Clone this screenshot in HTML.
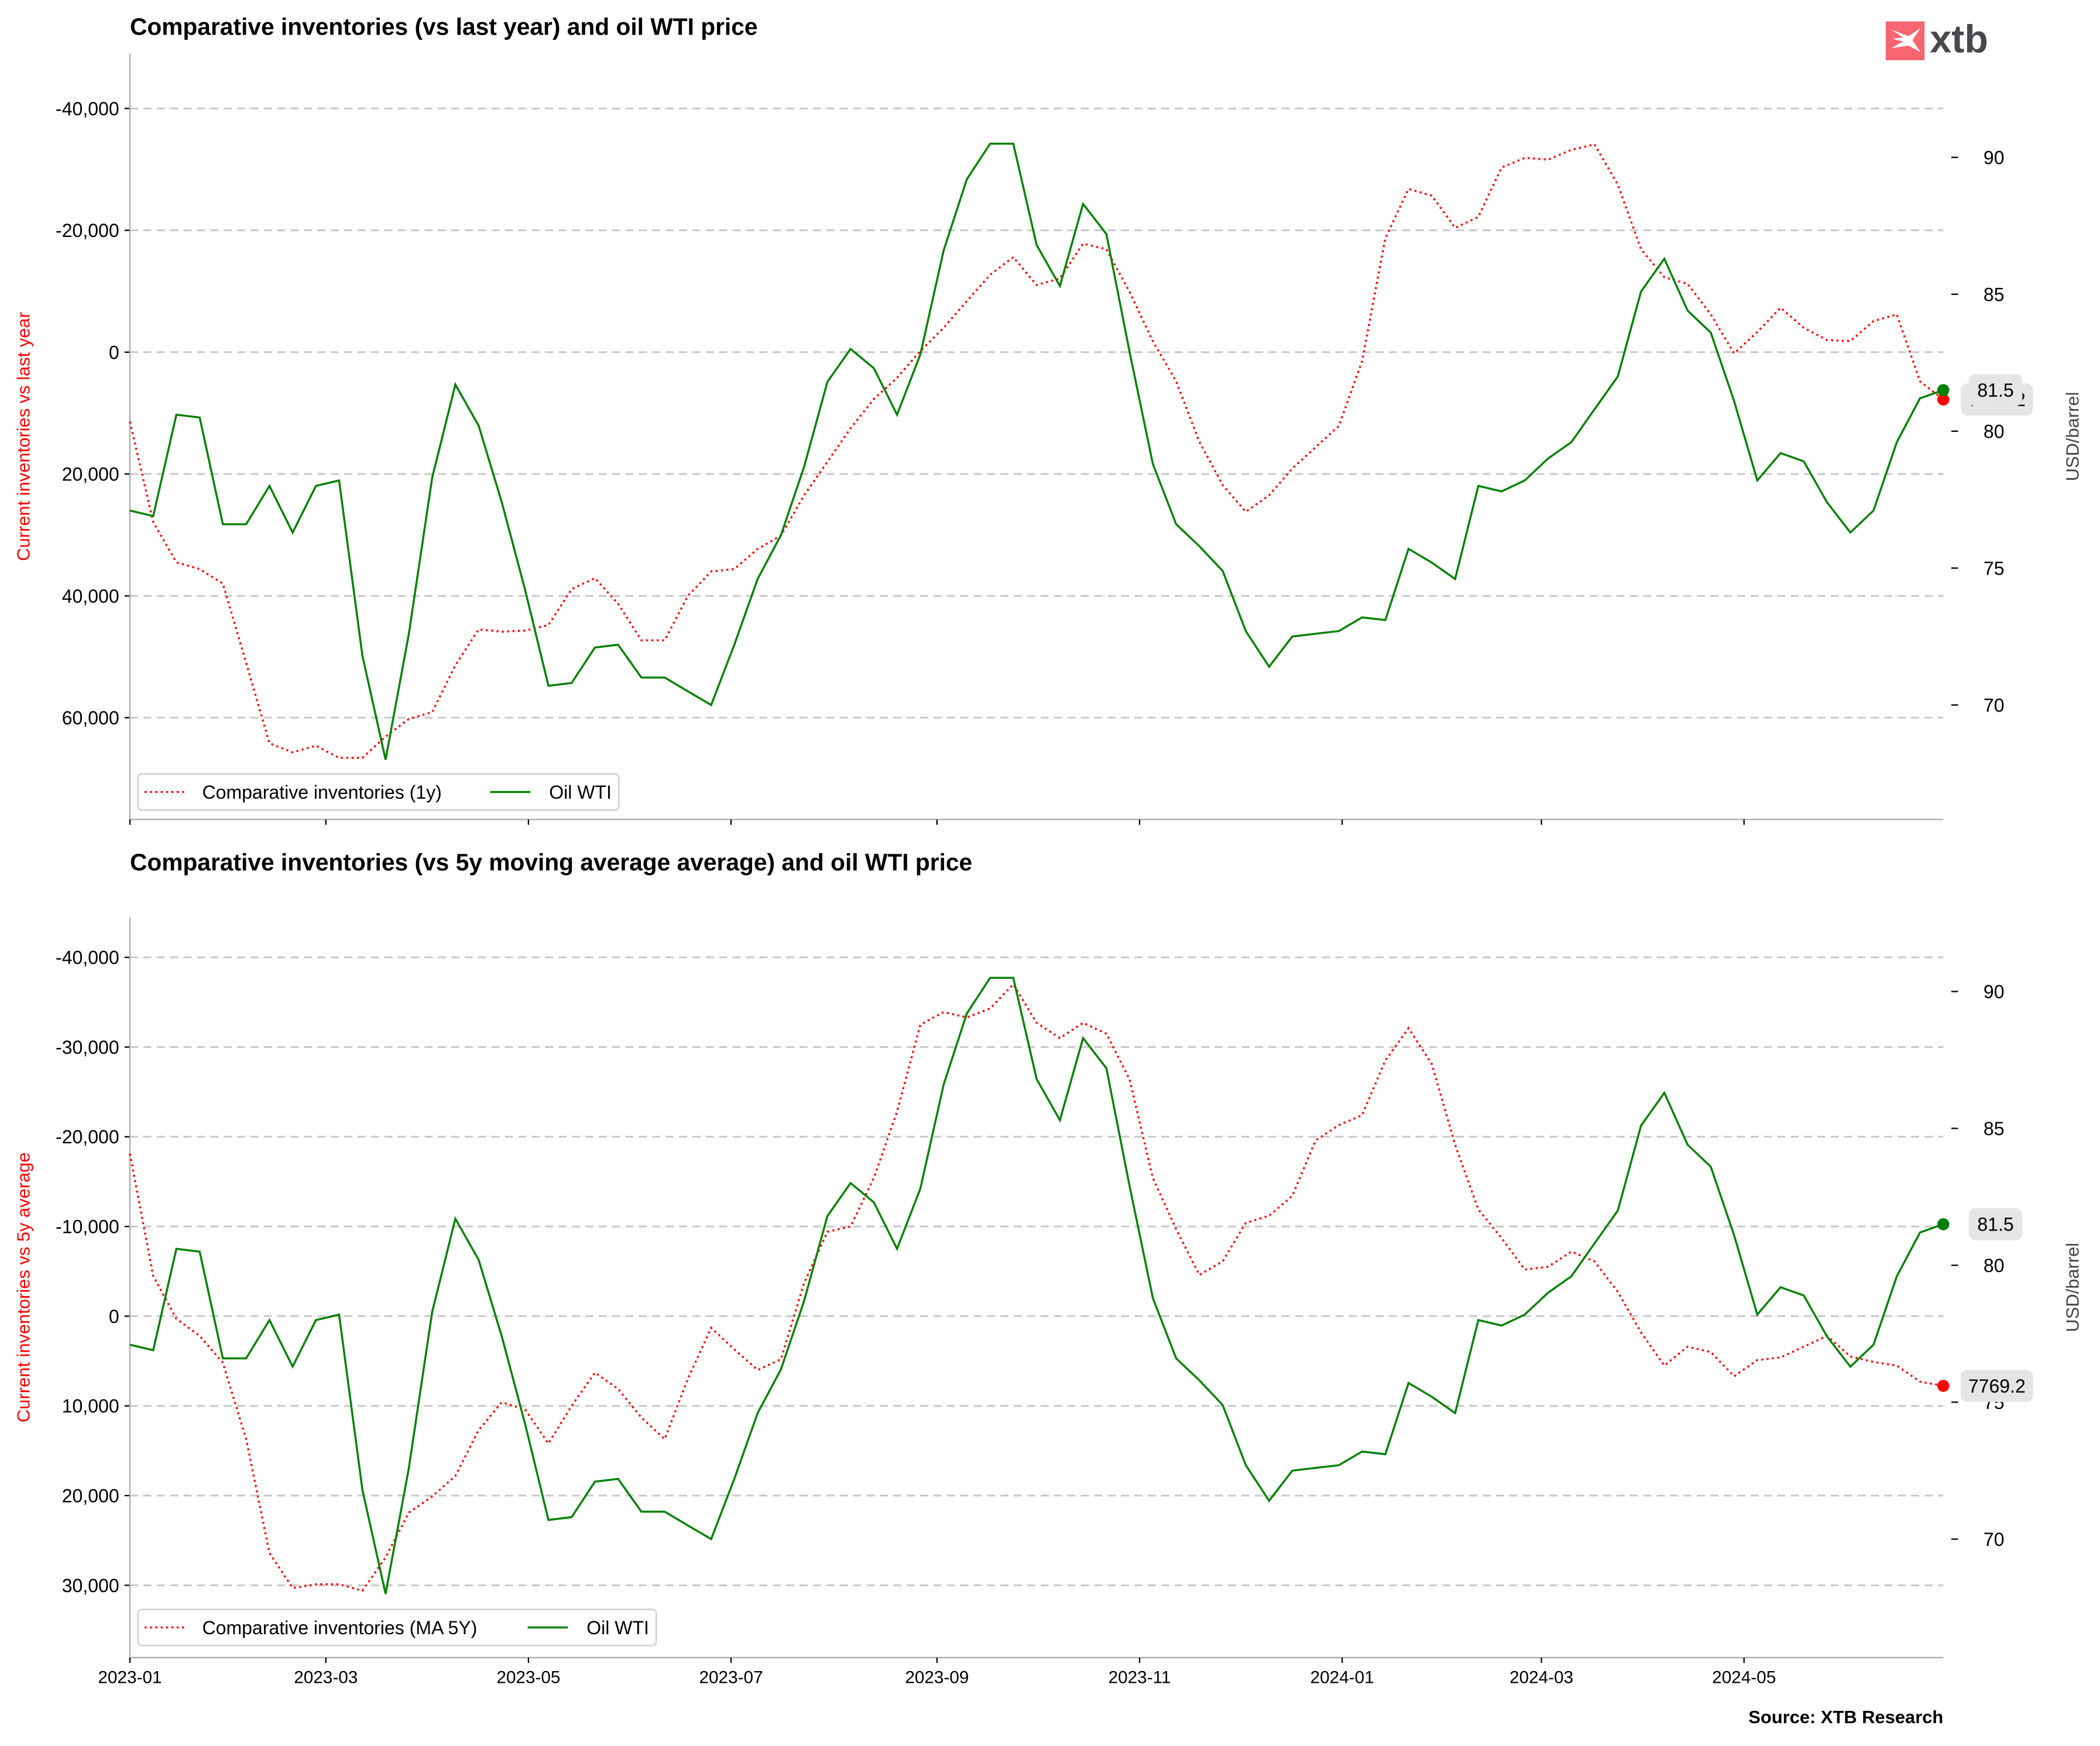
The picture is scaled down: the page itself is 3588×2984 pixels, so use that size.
<!DOCTYPE html>
<html><head><meta charset="utf-8"><style>
html,body{margin:0;padding:0;background:#fff;}
svg{display:block;font-family:"Liberation Sans",Arial,sans-serif;}
</style></head><body>
<svg id="chart" width="3588" height="2984" viewBox="0 0 1568 1304" xmlns="http://www.w3.org/2000/svg">
<rect width="1568" height="1304" fill="#fff"/>
<g id="root"></g>
</svg>
<script>
const dates=["2023-01","2023-03","2023-05","2023-07","2023-09","2023-11","2024-01","2024-03","2024-05"];
const tickDays=[0,59,120,181,243,304,365,425,486];
const wti=[77.1,76.9,80.6,80.5,76.6,76.6,78.0,76.3,78.0,78.2,71.8,68.0,72.6,78.3,81.7,80.2,77.4,74.2,70.7,70.8,72.1,72.2,71.0,71.0,70.5,70.0,72.2,74.6,76.2,78.7,81.8,83.0,82.3,80.6,82.8,86.6,89.2,90.5,90.5,86.8,85.3,88.3,87.2,82.9,78.8,76.6,75.8,74.9,72.7,71.4,72.5,72.6,72.7,73.2,73.1,75.7,75.2,74.6,78.0,77.8,78.2,79.0,79.6,80.8,82.0,85.1,86.3,84.4,83.6,81.1,78.2,79.2,78.9,77.4,76.3,77.1,79.6,81.2,81.5];
const inv1y=[11400,27900,34500,35600,38000,51000,64200,65700,64600,66600,66600,63100,60200,59100,51400,45500,45900,45700,44800,38900,37100,41300,47300,47300,40000,36000,35600,32300,30100,23500,18000,12500,7700,4200,-200,-4000,-8400,-12700,-15600,-11000,-12100,-17800,-16900,-9900,-1800,4800,14700,21800,26200,23500,19100,15600,12100,1500,-18700,-26800,-25700,-20400,-22200,-30300,-31900,-31600,-33200,-34100,-27500,-16900,-12300,-11200,-6200,200,-3300,-7300,-4000,-2000,-1800,-5100,-6200,4800,7769.2];
const inv5y=[-18100,-4500,300,2200,5200,13700,26400,30300,29900,29900,30600,26900,21900,20100,17800,12700,9600,10400,14200,10000,6300,8100,11300,13700,7000,1300,3700,6000,4800,-3700,-9400,-10000,-15400,-22800,-32500,-33900,-33300,-34300,-37000,-32700,-31000,-32700,-31500,-26400,-15400,-9700,-4600,-6100,-10400,-11200,-13400,-19600,-21300,-22400,-28500,-32100,-28100,-19100,-11900,-8700,-5200,-5500,-7200,-6100,-2700,1800,5500,3400,4000,6700,4900,4600,3400,2200,4500,5100,5500,7300,7769.2];
const leftTicks1=[-40000,-20000,0,20000,40000,60000];
const leftTicks2=[-40000,-30000,-20000,-10000,0,10000,20000,30000];
const rightTicks=[70,75,80,85,90];

const NS="http://www.w3.org/2000/svg";
const root=document.getElementById('root');
function el(tag,attrs,parent,text){const e=document.createElementNS(NS,tag);for(const k in attrs)e.setAttribute(k,attrs[k]);if(text!==undefined)e.textContent=text;(parent||root).appendChild(e);return e;}
const X0=97,X1=1451,pxDay=(1451-97)/546;
const xDay=d=>X0+d*pxDay;
const xIdx=i=>X0+i*7*pxDay;
const fmt=v=>v.toLocaleString('en-US');

function panel(cfg){
  const g=el('g',{});
  
  
  const yL=v=>cfg.zeroY+v*cfg.pxPer;
  const yR=p=>cfg.r80-(p-80)*20.45;
  cfg.lt.forEach(v=>{
    const y=yL(v);
    const gl=el('line',{x1:X0,x2:X1,y1:y,y2:y,stroke:'#c8c8c8','stroke-width':1.3,'stroke-dasharray':'6,4'},g);
    
    el('line',{x1:X0-4,x2:X0,y1:y,y2:y,stroke:'#000','stroke-width':1},g);
    const t=el('text',{x:X0-8,y:y+5,'text-anchor':'end','font-size':14},g,fmt(v));
    
  });
  rightTicks.forEach(p=>{
    const y=yR(p);
    el('line',{x1:X1+6,x2:X1+11,y1:y,y2:y,stroke:'#000','stroke-width':1},g);
    const t=el('text',{x:X1+30,y:y+5,'font-size':14},g,String(p));
    
  });
  el('line',{x1:X0,x2:X0,y1:cfg.top,y2:cfg.bot,stroke:'#aaa','stroke-width':1},g);
  el('line',{x1:X0,x2:X1,y1:cfg.bot,y2:cfg.bot,stroke:'#aaa','stroke-width':1},g);
  tickDays.forEach((d,i)=>{
    const x=xDay(d);
    el('line',{x1:x,x2:x,y1:cfg.bot,y2:cfg.bot+4,stroke:'#000','stroke-width':1},g);
    if(cfg.xlabels){const t=el('text',{x:x,y:cfg.bot+19,'text-anchor':'middle','font-size':13},g,dates[i]);
      }
  });
  const invPts=cfg.inv.map((v,i)=>xIdx(i).toFixed(1)+','+yL(v).toFixed(1)).join(' ');
  const inv=el('polyline',{points:invPts,fill:'none',stroke:'#ff0000','stroke-width':1.5,'stroke-dasharray':'1.5,2.5'},g);
  
  const wPts=wti.map((v,i)=>xIdx(i).toFixed(1)+','+yR(v).toFixed(1)).join(' ');
  const w=el('polyline',{points:wPts,fill:'none',stroke:'#008000','stroke-width':1.5},g);
  
  const li=cfg.inv.length-1,lw=wti.length-1;
  const ry=yL(cfg.inv[li]),gy=yR(wti[lw]);
  el('circle',{cx:xIdx(li),cy:ry,r:4.5,fill:'#ff0000'},g);
  el('circle',{cx:xIdx(lw),cy:gy,r:4.5,fill:'#008000'},g);
  el('rect',{x:1464,y:ry-12,width:54,height:24,rx:5,fill:'#e5e5e5'},g);
  const rl=el('text',{x:1491,y:ry+5,'text-anchor':'middle','font-size':14},g,fmt(cfg.inv[li]).replace(/,/g,''));
  
  el('rect',{x:1470,y:gy-12,width:40,height:24,rx:5,fill:'#e5e5e5'},g);
  const gl2=el('text',{x:1490,y:gy+5,'text-anchor':'middle','font-size':14},g,String(wti[lw]));
  
  const mid=(cfg.top+cfg.bot)/2;
  const lt=el('text',{x:22,y:mid,'text-anchor':'middle','font-size':13.5,fill:'#ff0000',transform:`rotate(-90 22 ${mid})`},g,cfg.ylabel);
  
  const rt=el('text',{x:1552,y:mid,'text-anchor':'middle','font-size':13.5,fill:'#444',transform:`rotate(-90 1552 ${mid})`},g,'USD/barrel');
  
  const tt=el('text',{x:97,y:cfg.titleY,'font-size':17.8,'font-weight':'bold'},g,cfg.title);
  
  const lg=el('g',{},g);
  
  const lx1=103+cfg.legW;
  el('rect',{x:103,y:cfg.legY,width:cfg.legW,height:27,rx:3,fill:'#fff',stroke:'#ccc','stroke-width':1},lg);
  const cy=cfg.legY+13.5;
  el('line',{x1:108,x2:138,y1:cy,y2:cy,stroke:'#ff0000','stroke-width':1.5,'stroke-dasharray':'1.5,2.5'},lg);
  const e1=el('text',{x:151,y:cy+5,'font-size':14},lg,cfg.legText);
  
  el('line',{x1:lx1-96,x2:lx1-66,y1:cy,y2:cy,stroke:'#008000','stroke-width':1.5},lg);
  const e2=el('text',{x:lx1-52,y:cy+5,'font-size':14},lg,'Oil WTI');
  
}
panel({name:'top-panel',zeroY:263,pxPer:91/20000,r80:322,top:40,bot:612,lt:leftTicks1,inv:inv1y,xlabels:false,
  ylabel:'Current inventories vs last year',title:'Comparative inventories (vs last year) and oil WTI price',titleY:26,
  legY:578,legW:359,legText:'Comparative inventories (1y)'});
panel({name:'bottom-panel',zeroY:983,pxPer:67/10000,r80:945,top:685,bot:1238,lt:leftTicks2,inv:inv5y,xlabels:true,
  ylabel:'Current inventories vs 5y average',title:'Comparative inventories (vs 5y moving average average) and oil WTI price',titleY:650,
  legY:1202,legW:387,legText:'Comparative inventories (MA 5Y)'});
const src=el('text',{x:1451,y:1287,'text-anchor':'end','font-size':13.5,'font-weight':'bold'},root,'Source: XTB Research');

const logo=el('g',{},root);

el('rect',{x:1408,y:16,width:29,height:29,fill:'#f76570'},logo);
el('path',{d:'M1412,22 L1425,27 L1434,21 L1428,30 L1434,39 L1425,34 L1412,36 L1421,31 L1413,29 L1421,28 Z',fill:'#fff'},logo);
el('text',{x:1441,y:39,'font-size':29,'font-weight':'bold',fill:'#48484d'},logo,'xtb');
</script>
</body></html>
